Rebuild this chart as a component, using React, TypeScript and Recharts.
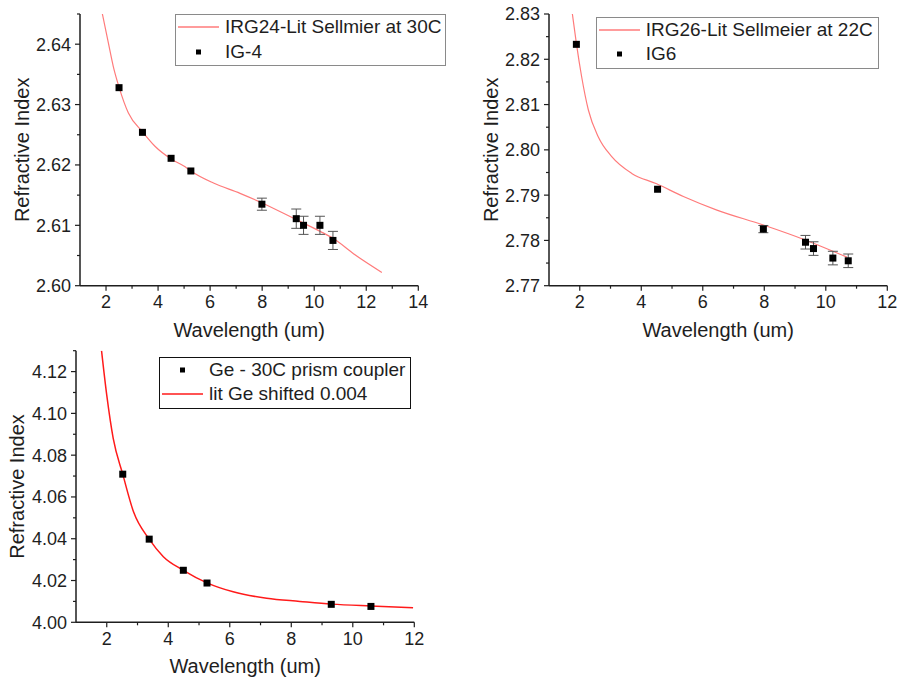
import React from 'react';
import { ComposedChart, Line, Scatter, ErrorBar, XAxis, YAxis, Legend, Label } from 'recharts';

const FONT = '"Liberation Sans", Arial, sans-serif';
const INK = '#1e1e1e';

// IRG24 / IG-4 panel
const ig4X = [2.5, 3.4, 4.5, 5.26, 7.99, 9.31, 9.59, 10.22, 10.72];
const ig4N = [2.6328, 2.6254, 2.6211, 2.619, 2.6135, 2.6111, 2.61, 2.61, 2.6075];
const ig4Err = [null, null, null, null, 0.001, 0.0016, 0.0015, 0.0015, 0.0015];
const irg24X = [1.86, 2.09, 2.28, 2.5, 2.86, 3.4, 3.88, 4.5, 5.04, 5.26, 6.13, 7.15, 8.0, 9.33, 10.23, 10.74, 11.51, 12.6];
const irg24N = [2.645, 2.6402, 2.6363, 2.6329, 2.6286, 2.6255, 2.6231, 2.621, 2.6197, 2.619, 2.617, 2.6153, 2.6137, 2.6109, 2.609, 2.6078, 2.6053, 2.6022];

// IRG26 / IG6 panel
const ig6X = [1.89, 4.53, 7.97, 9.34, 9.6, 10.23, 10.73];
const ig6N = [2.8233, 2.7913, 2.7825, 2.7796, 2.7782, 2.7761, 2.7755];
const ig6Err = [null, null, 0.0008, 0.0015, 0.0015, 0.0015, 0.0015];
const irg26X = [1.76, 1.89, 2.06, 2.28, 2.6, 3.04, 3.69, 4.5, 5.37, 6.46, 7.97, 9.33, 10.69];
const irg26N = [2.83, 2.8235, 2.8162, 2.8088, 2.8029, 2.7985, 2.7948, 2.7925, 2.7897, 2.7867, 2.7834, 2.7801, 2.7763];

// Ge panel
const geX = [2.52, 3.38, 4.49, 5.26, 9.3, 10.59];
const geN = [4.0709, 4.0398, 4.0249, 4.0188, 4.0086, 4.0076];
const geLitX = [1.83, 2.0, 2.21, 2.52, 2.87, 3.38, 3.84, 4.49, 5.26, 6.11, 7.2, 8.28, 9.31, 10.58, 11.96];
const geLitN = [4.13, 4.1087, 4.088, 4.0709, 4.0529, 4.0398, 4.0314, 4.0249, 4.0189, 4.0146, 4.0115, 4.01, 4.0087, 4.0078, 4.007];

// ticks
const x14Major = [2, 4, 6, 8, 10, 12, 14];
const x14Minor = [3, 5, 7, 9, 11, 13];
const x12Major = [2, 4, 6, 8, 10, 12];
const x12Minor = [3, 5, 7, 9, 11];
const y1Major = [2.6, 2.61, 2.62, 2.63, 2.64];
const y1Minor = [2.605, 2.615, 2.625, 2.635, 2.645];
const y2Major = [2.77, 2.78, 2.79, 2.8, 2.81, 2.82, 2.83];
const y2Minor = [2.775, 2.785, 2.795, 2.805, 2.815, 2.825];
const y3Major = [4.0, 4.02, 4.04, 4.06, 4.08, 4.1, 4.12];
const y3Minor = [4.01, 4.03, 4.05, 4.07, 4.09, 4.11, 4.13];

const zipPts = (xs: number[], ns: number[], errs?: (number | null)[]) =>
  xs.map((x, i) => ({ x, n: ns[i], err: errs ? errs[i] : null }));

const xTick = (majors: number[]) => (props: any) => {
  const { x, y, payload } = props;
  const major = majors.includes(payload.value);
  return (
    <g>
      <line x1={x} x2={x} y1={y} y2={y + (major ? 5 : 3)} stroke={INK} strokeWidth={1.2} />
      {major && (
        <text x={x} y={y + 22.6} textAnchor="middle" fontSize={18} fontFamily={FONT} fill={INK}>
          {payload.value}
        </text>
      )}
    </g>
  );
};

const yTick = (majors: number[]) => (props: any) => {
  const { x, y, payload } = props;
  const major = majors.includes(payload.value);
  return (
    <g>
      <line x1={x - (major ? 5 : 3)} x2={x} y1={y} y2={y} stroke={INK} strokeWidth={1.2} />
      {major && (
        <text x={x - 9} y={y + 6.4} textAnchor="end" fontSize={18} fontFamily={FONT} fill={INK}>
          {payload.value.toFixed(2)}
        </text>
      )}
    </g>
  );
};

const Square = (props: any) => (
  <rect x={props.cx - 3.5} y={props.cy - 3.5} width={7} height={7} fill="#000" />
);

type Item = { kind: 'line' | 'square'; label: string; color: string };

const LegendBox = ({ items, width, border }: { items: Item[]; width: number; border: string }) => (
  <div
    style={{
      width,
      border: `1.5px solid ${border}`,
      boxSizing: 'border-box',
      background: '#fff',
      fontFamily: FONT,
      fontSize: 19,
      color: INK,
      paddingTop: 0,
      paddingBottom: 1,
    }}
  >
    {items.map((it) => (
      <div key={it.label} style={{ display: 'flex', alignItems: 'center', height: 24.5, whiteSpace: 'nowrap' }}>
        <svg width={49} height={24} style={{ flex: 'none' }}>
          {it.kind === 'line' ? (
            <line x1={2} x2={43} y1={12} y2={12} stroke={it.color} strokeWidth={1.3} />
          ) : (
            <rect x={20} y={9.5} width={5} height={5} fill="#000" />
          )}
        </svg>
        <span>{it.label}</span>
      </div>
    ))}
  </div>
);

type PanelProps = {
  left: number;
  top: number;
  width: number;
  height: number;
  margin: { top: number; right: number; left: number; bottom: number };
  yAxisWidth: number;
  xAxisHeight: number;
  xDomain: [number, number];
  yDomain: [number, number];
  xMajor: number[];
  xMinor: number[];
  yMajor: number[];
  yMinor: number[];
  curve: { x: number; n: number }[];
  curveColor: string;
  curveWidth: number;
  points: { x: number; n: number; err: number | null }[];
  errors: boolean;
  yLabelX: number;
  legendItems: Item[];
  legendPos: { left: number; top: number; width: number };
  legendBorder: string;
};

const Panel = (p: PanelProps) => (
  <div style={{ position: 'absolute', left: p.left, top: p.top }}>
    <ComposedChart width={p.width} height={p.height} margin={p.margin}>
      <XAxis
        type="number"
        dataKey="x"
        domain={p.xDomain}
        allowDataOverflow
        ticks={[...p.xMajor, ...p.xMinor].sort((a, b) => a - b)}
        interval={0}
        tickSize={0}
        tickMargin={0}
        tickLine={false}
        tick={xTick(p.xMajor)}
        height={p.xAxisHeight}
        axisLine={{ stroke: INK, strokeWidth: 1.5 }}
      >
        <Label
          content={(lp: any) => {
            const vb = lp.viewBox;
            return (
              <text x={vb.x + vb.width / 2} y={vb.y + 51} textAnchor="middle" fontSize={20} fontFamily={FONT} fill={INK}>
                Wavelength (um)
              </text>
            );
          }}
        />
      </XAxis>
      <YAxis
        type="number"
        dataKey="n"
        domain={p.yDomain}
        allowDataOverflow
        ticks={[...p.yMajor, ...p.yMinor].sort((a, b) => a - b)}
        interval={0}
        tickSize={0}
        tickMargin={0}
        tickLine={false}
        tick={yTick(p.yMajor)}
        width={p.yAxisWidth}
        axisLine={{ stroke: INK, strokeWidth: 1.5 }}
      >
        <Label
          content={(lp: any) => {
            const vb = lp.viewBox;
            const cx = p.yLabelX;
            const cy = vb.y + vb.height / 2;
            return (
              <text
                x={cx}
                y={cy}
                transform={`rotate(-90, ${cx}, ${cy})`}
                textAnchor="middle"
                dominantBaseline="central"
                fontSize={20}
                fontFamily={FONT}
                fill={INK}
              >
                Refractive Index
              </text>
            );
          }}
        />
      </YAxis>
      <Legend
        layout="horizontal"
        verticalAlign="middle"
        align="center"
        wrapperStyle={{ position: 'absolute', left: p.legendPos.left, top: p.legendPos.top, width: p.legendPos.width }}
        content={() => <LegendBox items={p.legendItems} width={p.legendPos.width} border={p.legendBorder} />}
      />
      <Line
        data={p.curve}
        dataKey="n"
        type="monotone"
        stroke={p.curveColor}
        strokeWidth={p.curveWidth}
        dot={false}
        activeDot={false}
        isAnimationActive={false}
        legendType="none"
      />
      <Scatter data={p.points} dataKey="n" shape={Square} isAnimationActive={false} legendType="none">
        {p.errors && <ErrorBar dataKey="err" direction="y" width={5} stroke="#555" strokeWidth={1} />}
      </Scatter>
    </ComposedChart>
  </div>
);

export default function App() {
  return (
    <div style={{ position: 'absolute', left: 0, top: 0, width: 898, height: 681, background: '#fff' }}>
      <Panel
        left={0}
        top={0}
        width={450}
        height={345}
        margin={{ top: 14, right: 31.7, left: 0, bottom: 0 }}
        yAxisWidth={80}
        xAxisHeight={59.3}
        xDomain={[1, 14]}
        yDomain={[2.6, 2.645]}
        xMajor={x14Major}
        xMinor={x14Minor}
        yMajor={y1Major}
        yMinor={y1Minor}
        curve={zipPts(irg24X, irg24N)}
        curveColor="#ff7b7b"
        curveWidth={1.2}
        points={zipPts(ig4X, ig4N, ig4Err)}
        errors
        yLabelX={21.7}
        legendItems={[
          { kind: 'line', label: 'IRG24-Lit Sellmier at 30C', color: '#ff7b7b' },
          { kind: 'square', label: 'IG-4', color: '#000' },
        ]}
        legendPos={{ left: 175, top: 14, width: 271 }}
        legendBorder="#8a8a8a"
      />
      <Panel
        left={450}
        top={0}
        width={448}
        height={345}
        margin={{ top: 14, right: 10.7, left: 0, bottom: 0 }}
        yAxisWidth={99}
        xAxisHeight={59.3}
        xDomain={[1, 12]}
        yDomain={[2.77, 2.83]}
        xMajor={x12Major}
        xMinor={x12Minor}
        yMajor={y2Major}
        yMinor={y2Minor}
        curve={zipPts(irg26X, irg26N)}
        curveColor="#ff7b7b"
        curveWidth={1.2}
        points={zipPts(ig6X, ig6N, ig6Err)}
        errors
        yLabelX={41}
        legendItems={[
          { kind: 'line', label: 'IRG26-Lit Sellmeier at 22C', color: '#ff7b7b' },
          { kind: 'square', label: 'IG6', color: '#000' },
        ]}
        legendPos={{ left: 145.7, top: 16.7, width: 283 }}
        legendBorder="#8a8a8a"
      />
      <Panel
        left={0}
        top={340}
        width={450}
        height={341}
        margin={{ top: 10.7, right: 35.7, left: 0, bottom: 0 }}
        yAxisWidth={76}
        xAxisHeight={58.7}
        xDomain={[1, 12]}
        yDomain={[4.0, 4.13]}
        xMajor={x12Major}
        xMinor={x12Minor}
        yMajor={y3Major}
        yMinor={y3Minor}
        curve={zipPts(geLitX, geLitN)}
        curveColor="#ff1a1a"
        curveWidth={1.5}
        points={zipPts(geX, geN)}
        errors={false}
        yLabelX={17}
        legendItems={[
          { kind: 'square', label: 'Ge - 30C prism coupler', color: '#000' },
          { kind: 'line', label: 'lit Ge shifted 0.004', color: '#ff1a1a' },
        ]}
        legendPos={{ left: 159, top: 16.7, width: 252 }}
        legendBorder="#111"
      />
    </div>
  );
}
